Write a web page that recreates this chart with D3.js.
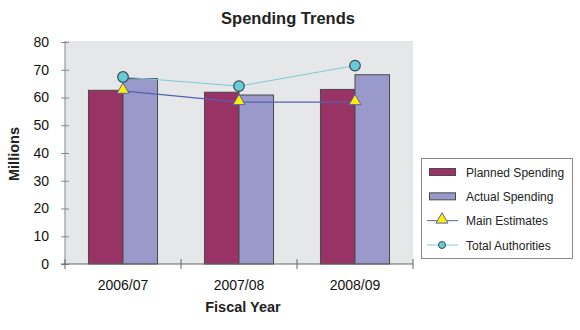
<!DOCTYPE html>
<html><head><meta charset="utf-8">
<script src="https://cdn.jsdelivr.net/npm/d3@7"></script>
<style>body{margin:0;background:#fff}svg{display:block;font-family:"Liberation Sans",Arial,sans-serif}</style>
</head><body><svg id="c" width="580" height="330"></svg>
<script>
const categories = ["2006/07", "2007/08", "2008/09"];
const plannedSpending = [62.6, 61.9, 62.9];
const actualSpending = [66.8, 60.9, 68.2];
const mainEstimates = [62.4, 58.3, 58.3];
const totalAuthorities = [67.4, 64.1, 71.5];
const yTicks = [0, 10, 20, 30, 40, 50, 60, 70, 80];
const legendLabels = ["Planned Spending", "Actual Spending", "Main Estimates", "Total Authorities"];

const svg = d3.select("#c");
const m = {l: 65, r: 413, t: 42, b: 264};
const x = d3.scaleBand().domain(categories).range([m.l, m.r]).paddingInner(0).paddingOuter(0);
const y = d3.scaleLinear().domain([0, 80]).range([m.b, m.t]);
const sub = d3.scaleBand().domain([0, 1]).range([0, x.bandwidth()]).paddingOuter(0.68).paddingInner(0);

svg.append("rect").attr("x", m.l).attr("y", m.t - 1).attr("width", m.r - m.l).attr("height", m.b - m.t + 1).attr("fill", "#e6e7e8");

const colors = ["#993366", "#9999cc"];
[plannedSpending, actualSpending].forEach((s, i) => {
  svg.append("g").selectAll("rect").data(s).join("rect")
    .attr("x", (d, j) => x(categories[j]) + sub(i))
    .attr("y", d => y(d))
    .attr("width", sub.bandwidth())
    .attr("height", d => y(0) - y(d))
    .attr("fill", colors[i]).attr("stroke", "#4a4a4a").attr("stroke-width", 1);
});

const cx = (d, j) => x(categories[j]) + x.bandwidth() / 2;
const line = d3.line().x((d, j) => cx(d, j)).y(d => y(d));
svg.append("path").datum(totalAuthorities).attr("d", line).attr("fill", "none").attr("stroke", "#7ccbd8").attr("stroke-width", 1);
svg.append("path").datum(mainEstimates).attr("d", line).attr("fill", "none").attr("stroke", "#5561b0").attr("stroke-width", 1.2);

const tri = d3.symbol().type(d3.symbolTriangle).size(62);
svg.append("g").selectAll("path").data(mainEstimates).join("path")
  .attr("d", tri).attr("transform", (d, j) => `translate(${cx(d, j)},${y(d) - 1})`)
  .attr("fill", "#ffee00").attr("stroke", "#5561b0").attr("stroke-width", 1);
svg.append("g").selectAll("circle").data(totalAuthorities).join("circle")
  .attr("cx", cx).attr("cy", d => y(d)).attr("r", 5.3)
  .attr("fill", "#66ccd9").attr("stroke", "#3d4a4e").attr("stroke-width", 1.2);

// y axis
const ya = svg.append("g").attr("transform", `translate(${m.l},0)`)
  .call(d3.axisLeft(y).tickValues(yTicks).tickSize(4).tickSizeOuter(0));
ya.select(".domain").attr("stroke", "#888").attr("d", `M0,${m.t - 1}V${m.b}`);
ya.selectAll(".tick line").attr("stroke", "#888").attr("x1", 4);
ya.selectAll(".tick text").attr("font-size", 14).attr("fill", "#111").attr("x", -16);

// x axis
const xa = svg.append("g").attr("transform", `translate(0,${m.b})`)
  .call(d3.axisBottom(x).tickSize(0).tickSizeOuter(0));
xa.select(".domain").attr("stroke", "#666").attr("d", `M${m.l - 4},0H${m.r}`);
xa.selectAll(".tick text").attr("font-size", 14).attr("fill", "#111").attr("dy", 0).attr("y", 26);
const bounds = [categories[0], ...categories].map((c, i) => i === 0 ? x(c) : x(c) + x.bandwidth());
xa.append("g").selectAll("line").data(bounds).join("line")
  .attr("x1", d => d).attr("x2", d => d).attr("y1", -5).attr("y2", 5).attr("stroke", "#666");

svg.append("text").attr("x", 288).attr("y", 24).attr("text-anchor", "middle")
  .attr("font-size", 16.5).attr("font-weight", "bold").attr("fill", "#222").text("Spending Trends");
svg.append("text").attr("x", 243).attr("y", 312).attr("text-anchor", "middle")
  .attr("font-size", 14.5).attr("font-weight", "bold").attr("fill", "#222").text("Fiscal Year");
svg.append("text").attr("transform", "translate(19,154) rotate(-90)").attr("text-anchor", "middle")
  .attr("font-size", 14.5).attr("font-weight", "bold").attr("fill", "#222").text("Millions");

// legend
const lg = svg.append("g");
lg.append("rect").attr("x", 421.5).attr("y", 158.5).attr("width", 151).attr("height", 100)
  .attr("fill", "#fff").attr("stroke", "#888");
const rowY = d3.scalePoint().domain(legendLabels).range([172, 245]);
legendLabels.forEach((lab, i) => {
  const yy = rowY(lab);
  if (i < 2) {
    lg.append("rect").attr("x", 429.5).attr("y", yy - 3.5).attr("width", 26).attr("height", 7)
      .attr("fill", colors[i]).attr("stroke", "#4a4a4a");
  } else if (i === 2) {
    lg.append("line").attr("x1", 427).attr("x2", 458).attr("y1", yy).attr("y2", yy).attr("stroke", "#5561b0");
    lg.append("path").attr("d", tri).attr("transform", `translate(442,${yy - 1})`)
      .attr("fill", "#ffee00").attr("stroke", "#5561b0");
  } else {
    lg.append("line").attr("x1", 427).attr("x2", 458).attr("y1", yy).attr("y2", yy).attr("stroke", "#7ccbd8");
    lg.append("circle").attr("cx", 442).attr("cy", yy).attr("r", 3.5)
      .attr("fill", "#66ccd9").attr("stroke", "#3d4a4e");
  }
  lg.append("text").attr("x", 466).attr("y", yy + 4.5).attr("font-size", 12).attr("fill", "#222").text(lab);
});
</script></body></html>
